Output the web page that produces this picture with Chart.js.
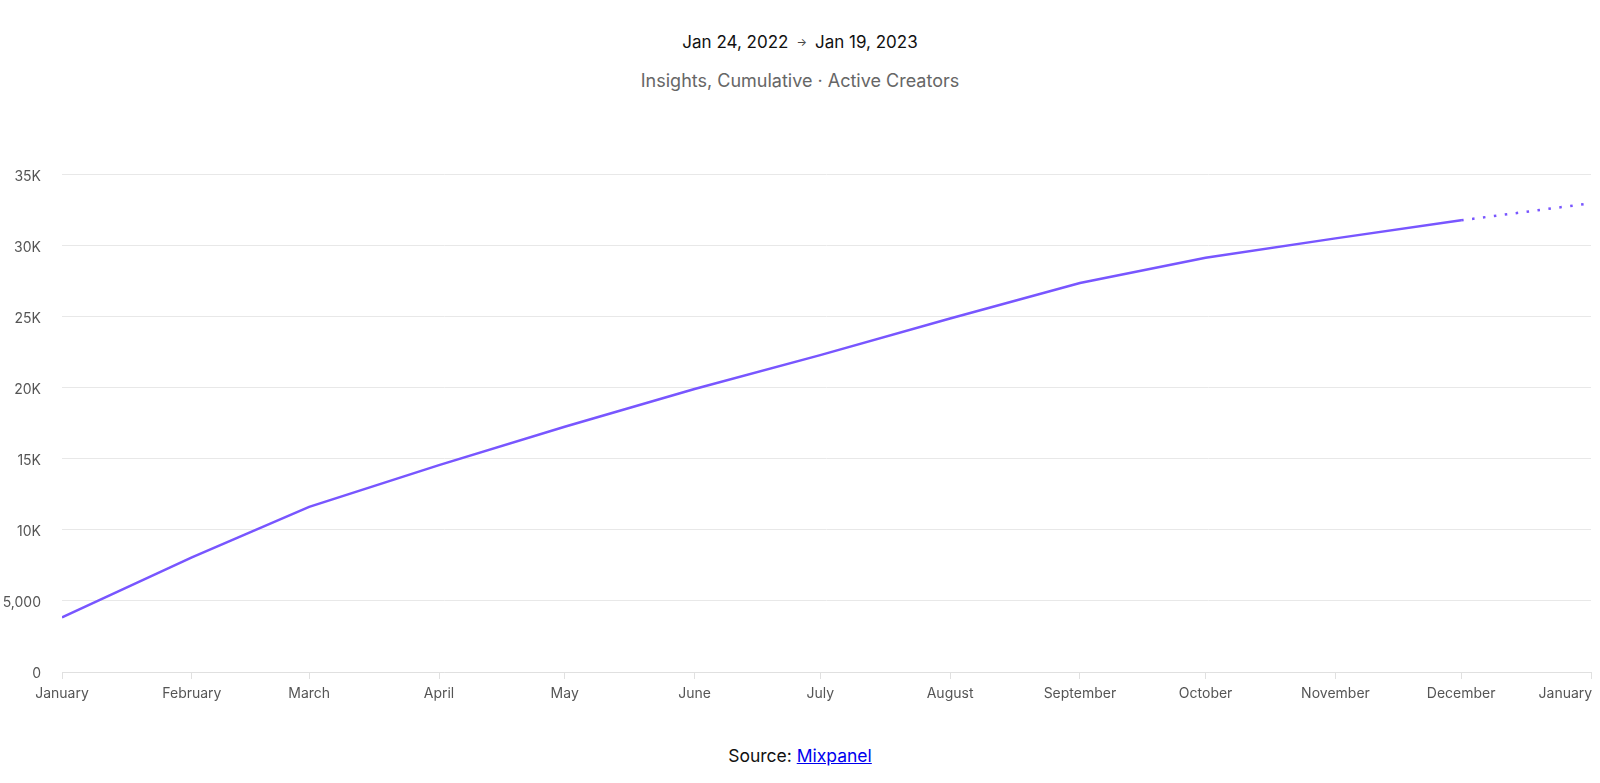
<!DOCTYPE html>
<html>
<head>
<meta charset="utf-8">
<script src="https://cdn.jsdelivr.net/npm/chart.js@4.4.1/dist/chart.umd.min.js"></script>
<style>
  html, body { margin: 0; padding: 0; background: #fff; }
  body { width: 1600px; height: 783px; position: relative; overflow: hidden; font-family: 'Inter', 'Noto Sans', sans-serif; }
  .title { position: absolute; top: 30px; left: 0; width: 1600px; text-align: center; font-size: 17px; color: #111; line-height: 24px; }
  .title .arrow { font-size: 11px; color: #444; margin: 0 8px; vertical-align: 2px; }
  .subtitle { position: absolute; top: 69px; left: 0; width: 1600px; text-align: center; font-size: 18px; color: #666; line-height: 24px; }
  .source { position: absolute; top: 744px; left: 0; width: 1600px; text-align: center; font-size: 17.5px; color: #111; line-height: 24px; }
  .source a { color: #0000ee; text-decoration: underline; }
  #wrap { position: absolute; top: 145px; left: 0; width: 1600px; height: 565px; }
</style>
</head>
<body>
<div class="title">Jan 24, 2022<span class="arrow">→</span>Jan 19, 2023</div>
<div class="subtitle">Insights, Cumulative · Active Creators</div>
<div id="wrap"><canvas id="chart"></canvas></div>
<div class="source">Source: <a href="https://mixpanel.com">Mixpanel</a></div>

<script>
// month buckets (start of each month), Jan 2022 .. Jan 2023
const monthStarts = ['2022-01-01', '2022-02-01', '2022-03-01', '2022-04-01', '2022-05-01', '2022-06-01',
    '2022-07-01', '2022-08-01', '2022-09-01', '2022-10-01', '2022-11-01', '2022-12-01', '2023-01-01'];
const monthLabels = ['January', 'February', 'March', 'April', 'May', 'June', 'July',
    'August', 'September', 'October', 'November', 'December', 'January'];
// cumulative active creators
const activeCreators = [3840, 8060, 11620, 14550, 17250, 19910, 22290, 24860, 27360, 29140, 30500, 31770, 32970];
const yTicks = [0, 5000, 10000, 15000, 20000, 25000, 30000, 35000];

const LINE_COLOR = '#7856ff';
const DAY = 24 * 3600 * 1000;
const origin = Date.parse(monthStarts[0]);
const dayOffsets = monthStarts.map(d => Math.round((Date.parse(d) - origin) / DAY));
const lastIdx = activeCreators.length - 1;

Chart.defaults.font.family = "'Inter', 'Noto Sans', sans-serif";
Chart.defaults.font.size = 14;
Chart.defaults.color = '#555';

const ctx = document.getElementById('chart');
new Chart(ctx, {
    type: 'line',
    data: {
        datasets: [{
            data: dayOffsets.map((x, i) => ({ x: x, y: activeCreators[i] })),
            borderColor: LINE_COLOR,
            backgroundColor: LINE_COLOR,
            borderWidth: 2.5,
            pointRadius: 0,
            tension: 0,
            fill: false,
            segment: {
                // last bucket is still in progress -> dotted
                borderDash: c => c.p1DataIndex === lastIdx ? [2.5, 8.5] : undefined
            }
        }]
    },
    options: {
        responsive: true,
        maintainAspectRatio: false,
        animation: false,
        layout: { padding: { top: 14, right: 9, left: 0, bottom: 0 } },
        plugins: {
            legend: { display: false },
            tooltip: { enabled: false }
        },
        scales: {
            x: {
                type: 'linear',
                min: dayOffsets[0],
                max: dayOffsets[lastIdx],
                afterBuildTicks: scale => {
                    scale.ticks = dayOffsets.map(v => ({ value: v }));
                },
                afterFit: scale => {
                    scale.height = 38;
                    scale.paddingLeft = 0;
                    scale.paddingRight = 0;
                },
                ticks: {
                    autoSkip: false,
                    maxRotation: 0,
                    padding: 6,
                    color: '#555',
                    callback: (v, i) => {
                        // last label sits flush with the right edge in the original
                        if (i === lastIdx) return monthLabels[i] + '             ';
                        return monthLabels[i];
                    }
                },
                grid: {
                    drawOnChartArea: false,
                    drawTicks: true,
                    tickLength: 7,
                    color: '#e0e0e0'
                },
                border: { color: '#e0e0e0' }
            },
            y: {
                min: 0,
                max: 35000,
                afterBuildTicks: scale => {
                    scale.ticks = yTicks.map(v => ({ value: v }));
                },
                afterFit: scale => {
                    scale.width = 62;
                },
                ticks: {
                    padding: 21,
                    labelOffset: 2,
                    color: '#555',
                    callback: v => {
                        if (v === 0) return '0';
                        if (v < 10000) return v.toLocaleString('en-US');
                        return (v / 1000) + 'K';
                    }
                },
                grid: {
                    color: '#e8e8e8',
                    drawTicks: false
                },
                border: { display: false }
            }
        }
    }
});
</script>
</body>
</html>
